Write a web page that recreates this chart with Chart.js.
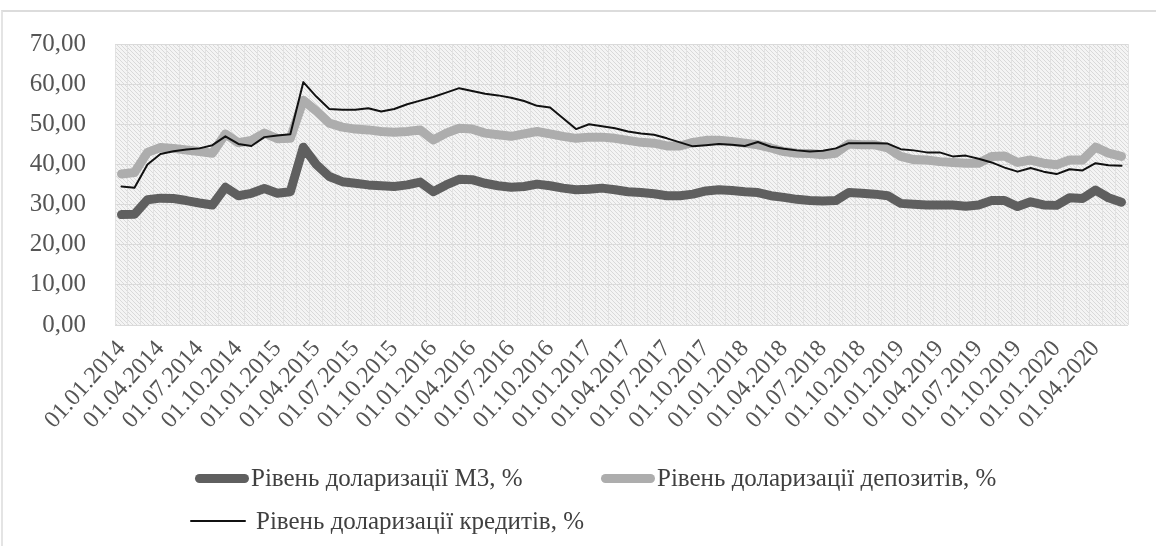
<!DOCTYPE html>
<html>
<head>
<meta charset="utf-8">
<script src="https://cdn.jsdelivr.net/npm/chart.js@4.4.1/dist/chart.umd.min.js"></script>
<style>
  body { margin: 0; background: #fff; }
  #wrap { position: relative; width: 1156px; height: 546px; }
  #frame { position: absolute; left: 1px; top: 10px; width: 1160px; height: 540px;
           border-top: 2px solid #dcdcdc; border-left: 2px solid #e4e4e4; }
  .leg { position: absolute; font-family: "Liberation Serif", serif; font-size: 25px; color: #404040;
         white-space: nowrap; display: flex; align-items: center; }
  .sw { display: inline-block; margin-right: 2px; border-radius: 5px; }
</style>
</head>
<body>
<div id="wrap">
  <div id="frame"></div>
  <canvas id="myChart" width="1156" height="546"></canvas>
  <div id="legend"></div>
</div>
<script>
// місяці 01.01.2014 - 01.06.2020
var labels = [
  "01.01.2014","01.02.2014","01.03.2014","01.04.2014","01.05.2014","01.06.2014","01.07.2014","01.08.2014","01.09.2014","01.10.2014","01.11.2014","01.12.2014",
  "01.01.2015","01.02.2015","01.03.2015","01.04.2015","01.05.2015","01.06.2015","01.07.2015","01.08.2015","01.09.2015","01.10.2015","01.11.2015","01.12.2015",
  "01.01.2016","01.02.2016","01.03.2016","01.04.2016","01.05.2016","01.06.2016","01.07.2016","01.08.2016","01.09.2016","01.10.2016","01.11.2016","01.12.2016",
  "01.01.2017","01.02.2017","01.03.2017","01.04.2017","01.05.2017","01.06.2017","01.07.2017","01.08.2017","01.09.2017","01.10.2017","01.11.2017","01.12.2017",
  "01.01.2018","01.02.2018","01.03.2018","01.04.2018","01.05.2018","01.06.2018","01.07.2018","01.08.2018","01.09.2018","01.10.2018","01.11.2018","01.12.2018",
  "01.01.2019","01.02.2019","01.03.2019","01.04.2019","01.05.2019","01.06.2019","01.07.2019","01.08.2019","01.09.2019","01.10.2019","01.11.2019","01.12.2019",
  "01.01.2020","01.02.2020","01.03.2020","01.04.2020","01.05.2020","01.06.2020"
];

var m3 = [
  27.5,27.6,31.2,31.6,31.5,31.0,30.4,29.9,34.3,32.2,32.8,34.0,
  32.8,33.2,44.3,40.0,37.0,35.7,35.3,34.9,34.7,34.5,34.9,35.6,
  33.2,34.9,36.3,36.2,35.3,34.7,34.3,34.5,35.1,34.7,34.1,33.7,
  33.8,34.1,33.7,33.2,33.0,32.7,32.2,32.2,32.6,33.4,33.7,33.5,
  33.2,33.0,32.2,31.8,31.3,31.0,30.9,31.0,33.0,32.8,32.6,32.2,
  30.3,30.1,29.9,29.9,29.9,29.6,29.9,31.0,31.0,29.5,30.7,29.9,
  29.8,31.7,31.5,33.6,31.7,30.6
];

var deposits = [
  37.6,38.0,43.0,44.2,44.0,43.6,43.2,42.8,47.6,45.4,46.0,47.8,
  46.4,46.5,56.0,53.3,50.3,49.3,48.8,48.6,48.2,48.0,48.2,48.6,
  46.1,47.8,49.0,48.8,47.8,47.4,47.0,47.6,48.2,47.6,47.0,46.5,
  46.8,46.8,46.5,46.0,45.5,45.3,44.6,44.6,45.5,46.0,46.0,45.7,
  45.3,44.9,44.1,43.2,42.8,42.7,42.4,42.8,45.1,44.9,44.9,44.1,
  42.0,41.2,41.1,40.7,40.5,40.3,40.3,42.0,42.1,40.5,41.1,40.3,
  39.9,41.1,41.1,44.3,42.8,42.0
];

var credits = [
  34.5,34.2,40.0,42.6,43.3,43.7,44.0,44.8,47.0,45.1,44.6,46.8,
  47.2,47.5,60.5,56.9,53.8,53.6,53.6,54.0,53.2,53.8,55.0,55.9,
  56.8,57.9,59.0,58.3,57.6,57.2,56.6,55.8,54.6,54.2,51.5,48.8,
  50.0,49.5,49.0,48.2,47.7,47.4,46.5,45.5,44.5,44.8,45.1,44.9,
  44.6,45.6,44.4,43.9,43.5,43.2,43.4,44.0,45.3,45.3,45.3,45.2,
  43.8,43.5,43.0,43.0,42.0,42.2,41.4,40.5,39.2,38.2,39.1,38.2,
  37.6,38.8,38.5,40.3,39.8,39.7
];

var seriesNames = [
  "Рівень доларизації М3, %",
  "Рівень доларизації депозитів, %",
  "Рівень доларизації кредитів, %"
];

// фон області побудови (візерунок як в Excel)
function makePattern(ctx) {
  var c = document.createElement("canvas");
  c.width = 4; c.height = 4;
  var p = c.getContext("2d");
  p.fillStyle = "#f4f4f4";
  p.fillRect(0, 0, 4, 4);
  p.fillStyle = "#d9d9d9";
  p.fillRect(0, 0, 1, 1);
  p.fillRect(1, 1, 1, 1);
  p.fillRect(2, 2, 1, 1);
  p.fillRect(3, 3, 1, 1);
  return ctx.createPattern(c, "repeat");
}

var plotBg = {
  id: "plotBg",
  beforeDraw: function (chart) {
    var a = chart.chartArea;
    var ctx = chart.ctx;
    ctx.save();
    ctx.fillStyle = makePattern(ctx);
    ctx.fillRect(a.left, a.top, a.right - a.left, a.bottom - a.top);
    ctx.restore();
  }
};

var ctx = document.getElementById("myChart").getContext("2d");
var myChart = new Chart(ctx, {
  type: "line",
  data: {
    labels: labels,
    datasets: [{
        label: seriesNames[0],
        data: m3,
        borderColor: "#5f5f5f",
        borderWidth: 9,
        order: 3
      }, {
        label: seriesNames[1],
        data: deposits,
        borderColor: "#adadad",
        borderWidth: 9,
        order: 2
      }, {
        label: seriesNames[2],
        data: credits,
        borderColor: "#111111",
        borderWidth: 2,
        order: 1
      }
    ]
  },
  options: {
    responsive: false,
    animation: false,
    devicePixelRatio: 1,
    layout: { padding: { left: 0, right: 28, top: 43, bottom: 0 } },
    elements: {
      point: { radius: 0 },
      line: { tension: 0, borderJoinStyle: "round", borderCapStyle: "round" }
    },
    plugins: {
      legend: { display: false },
      tooltip: { enabled: false }
    },
    scales: {
      x: {
        offset: true,
        grid: { color: "#e2e2e2", drawTicks: false, offset: true },
        border: { display: false },
        afterFit: function (s) { s.height = 546 - 325; },
        ticks: {
          autoSkip: false,
          maxRotation: 48,
          minRotation: 48,
          padding: 10,
          color: "#555555",
          font: { family: "Liberation Serif", size: 24 },
          callback: function (v, i) { return i % 3 === 0 ? labels[i] : ""; }
        }
      },
      y: {
        min: 0,
        max: 70,
        grid: { color: "#dadada", drawTicks: false },
        border: { display: false },
        afterFit: function (s) { s.width = 115; },
        ticks: {
          stepSize: 10,
          padding: 29,
          color: "#555555",
          font: { family: "Liberation Serif", size: 25 },
          callback: function (v) { return v.toFixed(2).replace(".", ","); }
        }
      }
    }
  },
  plugins: [plotBg]
});

// легенда
var legendPos = [
  { left: 195, top: 466, w: 54, h: 9, color: "#5f5f5f" },
  { left: 601, top: 466, w: 54, h: 9, color: "#adadad" },
  { left: 190, top: 509, w: 56, h: 2, color: "#111111" }
];
var legend = document.getElementById("legend");
seriesNames.forEach(function (name, i) {
  var p = legendPos[i];
  var d = document.createElement("div");
  d.className = "leg";
  d.style.left = p.left + "px";
  d.style.top = p.top + "px";
  d.style.height = "24px";
  var sw = document.createElement("span");
  sw.className = "sw";
  sw.style.width = p.w + "px";
  sw.style.height = p.h + "px";
  sw.style.background = p.color;
  if (i === 2) sw.style.marginRight = "10px";
  d.appendChild(sw);
  d.appendChild(document.createTextNode(name));
  legend.appendChild(d);
});
</script>
</body>
</html>
